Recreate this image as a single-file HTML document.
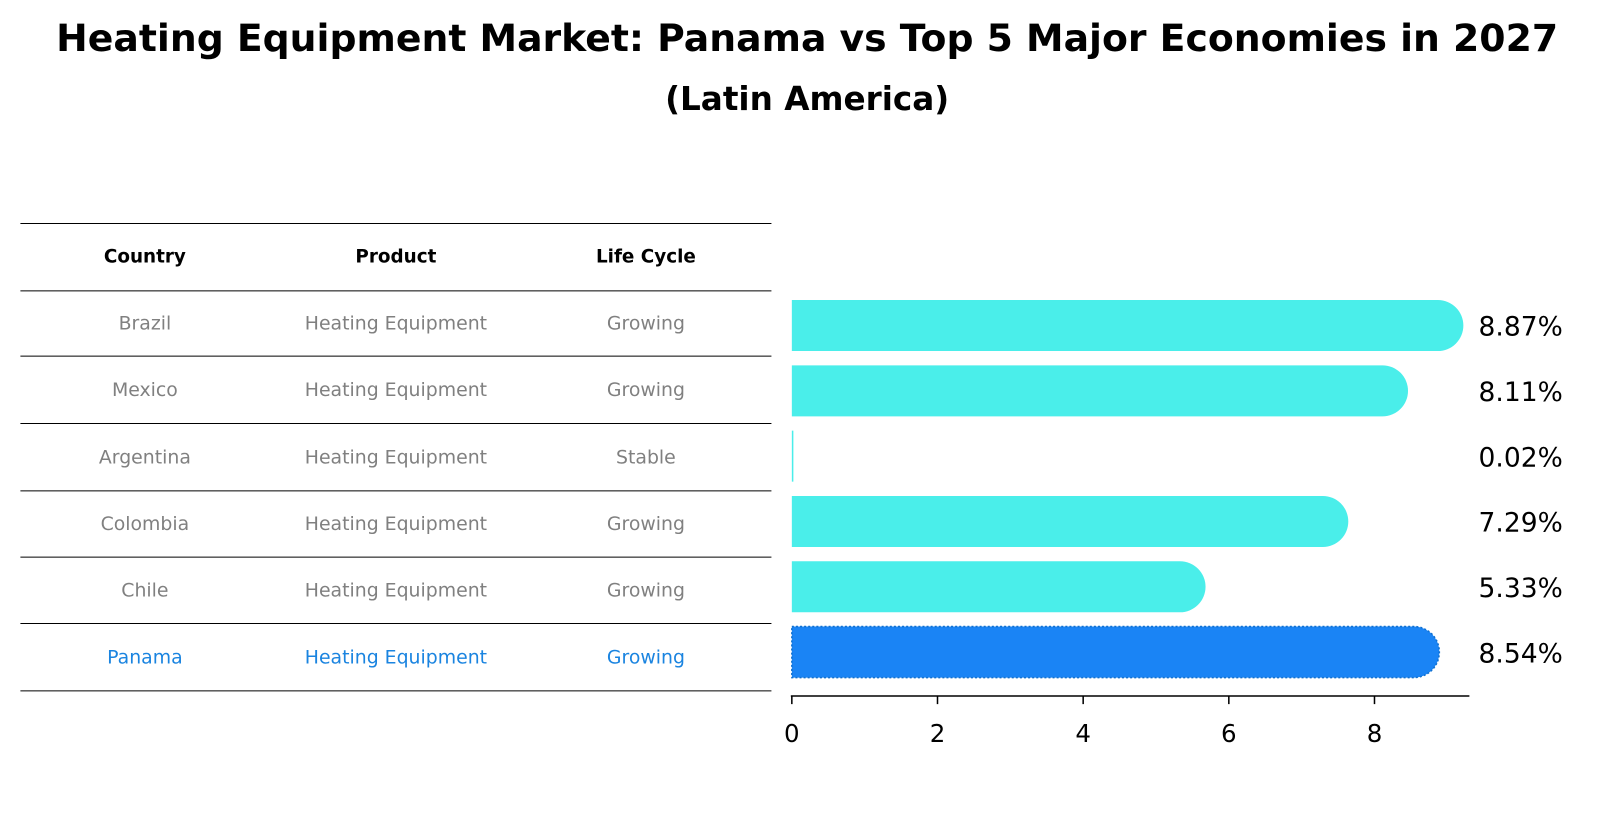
<!DOCTYPE html>
<html><head><meta charset="utf-8"><style>
body{margin:0;background:#fff;font-family:"Liberation Sans","DejaVu Sans",sans-serif}
svg text{font-family:"DejaVu Sans","Liberation Sans",sans-serif}
</style></head><body>
<svg width="1600" height="823" viewBox="0 0 1568 806.5" preserveAspectRatio="none" xmlns="http://www.w3.org/2000/svg">
<text x="791" y="50" text-anchor="middle" font-size="37" font-weight="bold">Heating Equipment Market: Panama vs Top 5 Major Economies in 2027</text>
<text x="791" y="108" text-anchor="middle" font-size="32" font-weight="bold">(Latin America)</text>
<g id="table"></g>
<g id="bars"></g>
</svg>
<script>
const countries=["Brazil","Mexico","Argentina","Colombia","Chile","Panama"];
const lifeCycle=["Growing","Growing","Stable","Growing","Growing","Growing"];
const values=[8.87,8.11,0.02,7.29,5.33,8.54];
const valueLabels=["8.87%","8.11%","0.02%","7.29%","5.33%","8.54%"];
const ticks=[0,2,4,6,8];
const NS="http://www.w3.org/2000/svg";
function mk(tag,attrs,parent,txt){const e=document.createElementNS(NS,tag);for(const k in attrs)e.setAttribute(k,attrs[k]);if(txt!==undefined)e.textContent=txt;parent.appendChild(e);return e;}
const x=v=>776+v*71.375;
const yc=i=>319+i*64;
const tbl=document.getElementById('table');
const lines=[219,285,349,415,481,546,611,677];
lines.forEach(ly=>{const l=mk('line',{x1:20,x2:756,y1:ly,y2:ly,stroke:'#000','stroke-width':1},tbl);

});
const cols=[142,388,633];
["Country","Product","Life Cycle"].forEach((h,j)=>{const t=mk('text',{x:cols[j],y:257,'text-anchor':'middle','font-size':18,'font-weight':'bold'},tbl,h);

});
countries.forEach((c,i)=>{const ry=(lines[i+1]+lines[i+2])/2+6;const col=c==="Panama"?"#1a84e0":"#808080";
[c,"Heating Equipment",lifeCycle[i]].forEach((s,j)=>{const t=mk('text',{x:cols[j],y:ry,'text-anchor':'middle','font-size':18.5,fill:col},tbl,s);

});});
const bg=document.getElementById('bars');
const bh=50,r=25;
values.forEach((v,i)=>{const x0=x(0),x1=x(v),top=yc(i)-bh/2;const pan=countries[i]==="Panama";
let d;
if(x1-x0<r){const w=Math.max(x1-x0,1.5);d=`M${x0},${top}h${w}v${bh}h${-w}z`;}
else d=`M${x0},${top}H${x1}A${r},${r} 0 0 1 ${x1},${top+bh}H${x0}Z`;
const p=mk('path',{d:d,fill:pan?'#1a84f5':'#4aeeea'},bg);
if(pan){p.setAttribute('stroke','#1070d0');p.setAttribute('stroke-dasharray','2,2');p.setAttribute('stroke-width','1.5');}


const t=mk('text',{x:1449,y:yc(i)+10,'font-size':26},bg,valueLabels[i]);

});
const ax=mk('line',{x1:775,x2:1440,y1:682,y2:682,stroke:'#000','stroke-width':1.5},bg);


ticks.forEach(tk=>{const l=mk('line',{x1:x(tk),x2:x(tk),y1:682,y2:690,stroke:'#000','stroke-width':1.5},bg);


const t=mk('text',{x:x(tk),y:727,'text-anchor':'middle','font-size':24},bg,String(tk));

});
</script>
</body></html>
